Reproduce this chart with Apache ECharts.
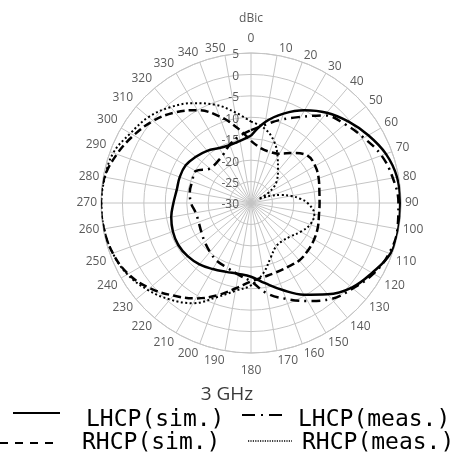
<!DOCTYPE html>
<html>
<head>
<meta charset="utf-8">
<script src="https://cdn.jsdelivr.net/npm/echarts@6/dist/echarts.min.js"></script>
<style>html,body{margin:0;padding:0;background:#fff}#c{width:454px;height:460px}</style>
</head>
<body>
<div id="c"></div>
<script>
// angles (degrees, clockwise from top) and gains (dBic)
const angles10 = [0,10,20,30,40,50,60,70,80,90,100,110,120,130,140,150,160,170,180,190,200,210,220,230,240,250,260,270,280,290,300,310,320,330,340,350];
const lhcpSim  = [-14.3,-10.8,-7.8,-5.0,-2.5,-0.4,1.6,3.5,4.6,4.8,4.9,4.6,2.6,0.7,-2.2,-5.3,-8.4,-11.0,-12.8,-13.2,-12.9,-12.2,-11.3,-10.7,-10.4,-10.6,-11.1,-11.9,-12.4,-12.3,-12.4,-13.2,-14.1,-15.2,-15.6,-15.3];
const lhcpMeas = [-13.0,-11.5,-9.3,-6.8,-3.3,-1.4,0.4,2.4,3.6,4.4,4.7,4.3,3.0,1.0,-0.8,-3.6,-6.2,-8.6,-11.7,-13.0,-13.9,-14.3,-15.1,-15.9,-16.6,-17.0,-16.9,-16.0,-15.5,-15.4,-15.1,-17.5,-17.6,-17.0,-15.5,-14.2];
const rhcpSim  = [-15.5,-17.0,-17.3,-16.7,-14.8,-12.8,-12.7,-13.2,-13.8,-14.0,-13.9,-13.4,-13.0,-12.7,-12.5,-12.8,-12.8,-12.5,-11.7,-9.8,-7.1,-4.3,-1.8,0.9,3.1,4.3,4.85,5.0,4.7,3.3,1.6,-0.2,-2.4,-5.0,-8.5,-12.3];
const rhcpMeasAngles = [0,10,20,30,40,50,55,60,63,67,70,75,80,85,90,100,110,120,130,140,150,160,170,180,190,200,210,220,230,240,250,260,270,280,290,300,310,320,330,340,350];
const rhcpMeas = [-11.0,-12.3,-14.5,-17.6,-20.2,-22.2,-23.5,-25.5,-28.0,-26.5,-25.0,-22.8,-20.5,-18.5,-16.8,-15.0,-15.3,-16.6,-17.9,-18.5,-18.3,-16.5,-13.4,-10.8,-9.2,-6.6,-3.0,-0.6,1.5,3.3,4.3,4.8,4.9,4.6,4.2,2.5,1.2,-0.8,-3.1,-5.6,-8.5];
const seriesNames = ['LHCP(sim.)','LHCP(meas.)','RHCP(sim.)','RHCP(meas.)'];
const chartTitle = '3 GHz';
const unitLabel = 'dBic';

function pairs(ang, vals){
  const d = ang.map((a,i)=>[vals[i], a]);
  d.push([vals[0], 360]);
  return d;
}

const chart = echarts.init(document.getElementById('c'), null, {renderer:'canvas'});
const gridColor = '#c4c4c4';
const labelColor = '#5a5a5a';
const labelFont = 'Open Sans';
const base = {color: labelColor, fontFamily: labelFont, fontSize: 12};
function angLabel(v){
  const a = v % 360;
  if (a === 0) return '{t|' + v + '}';
  if (a === 180) return '{b|' + v + '}';
  if (a === 10) return '{ur|' + v + '}';
  if (a === 350) return '{ul|' + v + '}';
  if (a === 170) return '{br|' + v + '}';
  if (a === 190) return '{bl|' + v + '}';
  if (a >= 20 && a <= 70) return '{u|' + v + '}';
  return '{n|' + v + '}';
}
chart.setOption({
  animation: false,
  title: {
    text: chartTitle, left: 'center', top: 380,
    textStyle: {fontFamily: labelFont, fontSize: 19, fontWeight: 'normal', color: '#3a3a3a'}
  },
  polar: {center: [251, 203], radius: 150},
  angleAxis: {
    type: 'value', min: 0, max: 360, interval: 10, startAngle: 90, clockwise: true,
    axisLine: {show: true, lineStyle: {color: gridColor, width: 1}},
    axisTick: {show: false},
    axisLabel: {
      show: true, margin: 4, color: labelColor, fontFamily: labelFont, fontSize: 12,
      formatter: angLabel,
      rich: {
        n: Object.assign({}, base),
        t: Object.assign({padding: [0, 0, 4, 0]}, base),
        b: Object.assign({padding: [8, 0, 0, 0]}, base),
        u: Object.assign({lineHeight: 6}, base),
        ur: Object.assign({lineHeight: 6, padding: [0, 0, 0, 16]}, base),
        ul: Object.assign({lineHeight: 6, padding: [0, 18, 0, 0]}, base),
        br: Object.assign({padding: [0, 0, 0, 20]}, base),
        bl: Object.assign({padding: [0, 20, 0, 0]}, base)
      }
    },
    splitLine: {show: true, lineStyle: {color: gridColor, width: 1}}
  },
  radiusAxis: {
    type: 'value', min: -30, max: 5, interval: 5,
    axisLine: {show: false},
    axisTick: {show: false},
    axisLabel: {
      show: true, color: labelColor, fontFamily: labelFont, fontSize: 12, align: 'right', verticalAlign: 'middle',
      padding: [4, 0, 0, 0], margin: 0,
      formatter: v => '{v|' + v + '}{s|}',
      rich: {v: Object.assign({}, base), s: {width: 12}}
    },
    splitLine: {show: true, lineStyle: {color: gridColor, width: 1}}
  },
  series: [
    {name: seriesNames[0], type: 'line', coordinateSystem: 'polar', data: pairs(angles10, lhcpSim), symbol: 'none', smooth: 0.4,
     lineStyle: {color: '#000', width: 2.5, type: 'solid'}, z: 5},
    {name: seriesNames[1], type: 'line', coordinateSystem: 'polar', data: pairs(angles10, lhcpMeas), symbol: 'none', smooth: 0.4,
     lineStyle: {color: '#000', width: 2.5, type: [9, 5, 2, 5]}, z: 4},
    {name: seriesNames[2], type: 'line', coordinateSystem: 'polar', data: pairs(angles10, rhcpSim), symbol: 'none', smooth: 0.4,
     lineStyle: {color: '#000', width: 2.5, type: [8, 4]}, z: 3},
    {name: seriesNames[3], type: 'line', coordinateSystem: 'polar', data: pairs(rhcpMeasAngles, rhcpMeas), symbol: 'none', smooth: 0.4,
     lineStyle: {color: '#000', width: 2, type: [2, 2.5]}, z: 2}
  ],
  graphic: [
    {type: 'text', x: 251, y: 19, style: {text: unitLabel, fill: labelColor, font: '12px "Open Sans"', align: 'center', verticalAlign: 'middle'}},
    {type: 'line', shape: {x1: 13, y1: 413, x2: 60, y2: 413}, style: {stroke: '#000', lineWidth: 2}},
    {type: 'text', x: 86, y: 420, style: {text: seriesNames[0], fill: '#000', font: '23px "DejaVu Sans Mono"', verticalAlign: 'middle'}},
    {type: 'line', shape: {x1: 242, y1: 415, x2: 284, y2: 415}, style: {stroke: '#000', lineWidth: 2, lineDash: [13, 6, 2, 6]}},
    {type: 'text', x: 298, y: 420, style: {text: seriesNames[1], fill: '#000', font: '23px "DejaVu Sans Mono"', verticalAlign: 'middle'}},
    {type: 'line', shape: {x1: 0, y1: 443, x2: 57, y2: 443}, style: {stroke: '#000', lineWidth: 2, lineDash: [8, 7]}},
    {type: 'text', x: 82, y: 443, style: {text: seriesNames[2], fill: '#000', font: '23px "DejaVu Sans Mono"', verticalAlign: 'middle'}},
    {type: 'line', shape: {x1: 248, y1: 441, x2: 292, y2: 441}, style: {stroke: '#000', lineWidth: 1.5, lineDash: [1.2, 1.2]}},
    {type: 'text', x: 302, y: 443, style: {text: seriesNames[3], fill: '#000', font: '23px "DejaVu Sans Mono"', verticalAlign: 'middle'}}
  ]
});
</script>
</body>
</html>
